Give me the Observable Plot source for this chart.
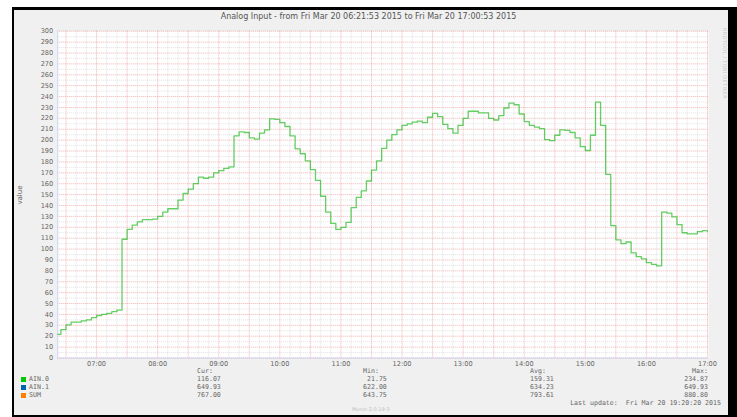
<!DOCTYPE html>
<html><head><meta charset="utf-8">
<script src="https://cdn.jsdelivr.net/npm/d3@7"></script>
<script src="https://cdn.jsdelivr.net/npm/@observablehq/plot@0.6"></script>
<style>
html,body{margin:0;padding:0;background:#fff;}
#wrap{position:relative;width:737px;height:417px;overflow:hidden;background:#fff;font-family:"DejaVu Sans",sans-serif;color:#666;}
#border{position:absolute;left:12px;top:7px;width:725px;height:410px;background:#000;}
#inner{position:absolute;left:14px;top:10px;width:714px;height:405px;background:#f0f0f0;}
#chart{position:absolute;left:0;top:0;}
.t{position:absolute;white-space:pre;line-height:1;}
.mono{font-family:"DejaVu Sans Mono",monospace;font-size:6.6px;color:#666;}
.sq{position:absolute;width:5px;height:5px;}
</style></head>
<body>
<div id="wrap">
  <div id="border"></div>
  <div id="inner"></div>
  <div id="chart"></div>
</div>
<script>
// ---- data ----
const title = "Analog Input - from Fri Mar 20 06:21:53 2015 to Fri Mar 20 17:00:53 2015";
const yLabel = "value";
const seriesNames = ["AIN.0", "AIN.1", "SUM"];
const seriesColors = ["#00CC00", "#0066B3", "#FF8000"];
const curValues = ["116.07", "649.93", "767.00"];
const minValues = [" 21.75", "622.00", "643.75"];
const avgValues = ["159.31", "634.23", "793.61"];
const maxValues = ["234.87", "649.93", "880.80"];
const lastUpdate = "Last update:  Fri Mar 20 19:20:20 2015";
const version = "Munin 2.0.19-3";
const watermark = "RRDTOOL / TOBI OETIKER";
const yTicks = [0,10,20,30,40,50,60,70,80,90,100,110,120,130,140,150,160,170,180,190,200,210,220,230,240,250,260,270,280,290,300];
const hourTicks = ["07:00","08:00","09:00","10:00","11:00","12:00","13:00","14:00","15:00","16:00","17:00"];
// AIN.0 samples, one per 5 minutes starting 06:20
const ain0 = [
  21.75, 26, 30.5, 33, 33, 34, 35, 37, 39, 40, 41, 42.5, 44,
  109, 118, 122, 125, 127, 127, 127.5, 130, 134, 137, 137, 145, 151, 155, 160,
  166, 165, 166, 170, 172, 174, 175.5, 204, 207.5, 207, 202, 201, 206.5, 209.5,
  219.5, 219, 216, 212.5, 204, 192, 187.5, 181, 173, 163, 148.5, 134, 123.5, 118,
  120, 124.5, 138, 147.5, 153.5, 162.5, 172.5, 181, 192.5, 200, 205, 209.5, 213.5,
  215, 216.5, 217.5, 216, 221, 224.5, 221.5, 214.5, 210.5, 206.5, 213.5, 220,
  226.5, 226.5, 225, 225, 220, 218.5, 222.5, 229.5, 234, 232.5, 224, 217, 213.5,
  212, 210.5, 200.5, 199.5, 204.5, 209.5, 209, 207, 202, 194, 190.5, 204.5,
  234.87, 213.5, 168.5, 121.5, 108.5, 105, 106.5, 96.5, 93, 91, 87.5, 86, 84.5,
  134, 133, 129.5, 122.5, 115, 114, 114, 116, 117, 116.07
];
const firstSample = new Date(2015, 2, 20, 6, 20, 0);
const tStart = new Date(2015, 2, 20, 6, 21, 53);
const tEnd = new Date(2015, 2, 20, 17, 0, 53);

// ---- build ----
const parseHM = s => { const [h, m] = s.split(":").map(Number); return new Date(2015, 2, 20, h, m); };
const hourDates = hourTicks.map(parseHM);
const rows = ain0.map((v, i) => ({t: new Date(+firstSample + i * 300000), v}));
rows.push({t: tEnd, v: ain0[ain0.length - 1]});
const half = d3.timeMinute.every(30).range(tStart, tEnd);
const minor10 = d3.timeMinute.every(10).range(tStart, tEnd).filter(d => d.getMinutes() % 30 !== 0);
const minorY = d3.range(5, 300, 10);

const chart = Plot.plot({
  width: 737, height: 417,
  marginLeft: 57.25, marginRight: 29.1, marginTop: 30.7, marginBottom: 59.5,
  style: {background: "transparent", fontFamily: "DejaVu Sans", fontSize: "6.6px", color: "#666", overflow: "visible"},
  x: {type: "time", domain: [tStart, tEnd]},
  y: {domain: [0, 300]},
  marks: [
    Plot.frame({fill: "#ffffff", stroke: null}),
    Plot.ruleX(minor10, {stroke: "#a0a0a0", strokeOpacity: 0.3, strokeDasharray: "1,1"}),
    Plot.ruleY(minorY, {stroke: "#a0a0a0", strokeOpacity: 0.3, strokeDasharray: "1,1"}),
    Plot.ruleX(half, {stroke: "#e86a6a", strokeOpacity: 0.5, strokeDasharray: "1,1"}),
    Plot.ruleY(yTicks, {stroke: "#e86a6a", strokeOpacity: 0.5, strokeDasharray: "1,1"}),
    Plot.axisY({ticks: yTicks, tickSize: 0, tickPadding: 4.5, label: null, fill: "#666"}),
    Plot.axisX({ticks: hourDates, tickFormat: d3.timeFormat("%H:%M"), tickSize: 0, tickPadding: 3, label: null, fill: "#666"}),
    Plot.ruleY([0], {stroke: "#CFD6F8"}),
    Plot.ruleX([tStart], {stroke: "#CFD6F8"}),
    Plot.line(rows, {x: "t", y: "v", curve: "step-after", stroke: "#22bb22", strokeOpacity: 0.7, strokeWidth: 1.3, clip: true})
  ]
});
const host = document.getElementById("chart");
host.appendChild(chart);

const wrap = document.getElementById("wrap");
function addText(txt, css, cls) {
  const d = document.createElement("div");
  d.className = "t " + (cls || "");
  d.textContent = txt;
  Object.assign(d.style, css);
  wrap.appendChild(d);
  return d;
}
// title
addText(title, {left: "0px", width: "737px", textAlign: "center", top: "13px", fontSize: "8px", color: "#555"});
// y label
addText(yLabel, {left: "20px", top: "195px", fontSize: "7px", transform: "translate(-50%,-50%) rotate(-90deg)", color: "#666"});
// watermark
addText(watermark, {left: "722px", top: "28px", fontSize: "5px", color: "#c8c8c8", writingMode: "vertical-rl", letterSpacing: "0.3px"});
// legend headers
const colX = {cur: 197, min: 363, avg: 530};
addText("Cur:", {left: colX.cur + "px", top: "368px"}, "mono");
addText("Min:", {left: colX.min + "px", top: "368px"}, "mono");
addText("Avg:", {left: colX.avg + "px", top: "368px"}, "mono");
addText("Max:", {right: (737 - 708) + "px", top: "368px"}, "mono");
const rowY = [376, 384, 392];
seriesNames.forEach((n, i) => {
  const s = document.createElement("div");
  s.className = "sq";
  Object.assign(s.style, {left: "21px", top: (rowY[i] + 1) + "px", background: seriesColors[i]});
  wrap.appendChild(s);
  addText(n, {left: "29px", top: rowY[i] + "px"}, "mono");
  addText(curValues[i], {left: colX.cur + "px", top: rowY[i] + "px"}, "mono");
  addText(minValues[i], {left: colX.min + "px", top: rowY[i] + "px"}, "mono");
  addText(avgValues[i], {left: colX.avg + "px", top: rowY[i] + "px"}, "mono");
  addText(maxValues[i], {right: (737 - 708) + "px", top: rowY[i] + "px"}, "mono");
});
addText(lastUpdate, {right: (737 - 721) + "px", top: "400px"}, "mono");
addText(version, {left: "352px", top: "407px", fontSize: "5px", color: "#c0c0c0"});
</script>
</body></html>
